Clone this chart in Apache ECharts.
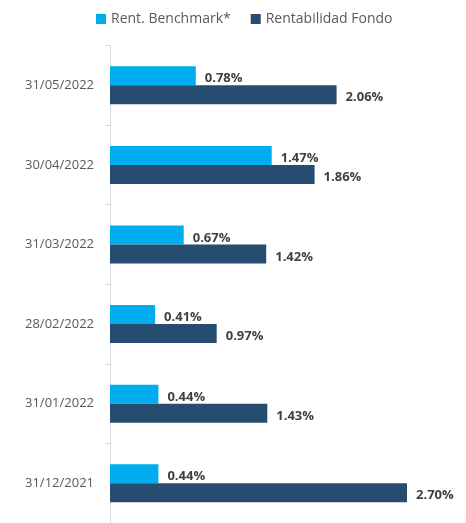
<!DOCTYPE html>
<html>
<head>
<meta charset="utf-8">
<title>Rentabilidad</title>
<script src="https://cdn.jsdelivr.net/npm/echarts@6/dist/echarts.min.js"></script>
<style>
  html, body { margin: 0; padding: 0; background: #fff; }
</style>
</head>
<body>
<div id="main" style="width:466px;height:523px;"></div>
<script>
// fechas, de abajo hacia arriba
const categories = ['31/12/2021', '31/01/2022', '28/02/2022', '31/03/2022', '30/04/2022', '31/05/2022'];
const benchmark = [0.44, 0.44, 0.41, 0.67, 1.47, 0.78];
const fondo = [2.70, 1.43, 0.97, 1.42, 1.86, 2.06];
const seriesNames = ['Rent. Benchmark*', 'Rentabilidad Fondo'];

const chart = echarts.init(document.getElementById('main'));

const labelStyle = {
  show: true,
  position: 'right',
  distance: 9,
  offset: [0, 3],
  color: '#404040',
  fontFamily: 'Open Sans',
  fontWeight: 'bold',
  fontSize: 13,
  formatter: p => p.value.toFixed(2) + '%'
};

chart.setOption({
  animation: false,
  textStyle: { fontFamily: 'Open Sans' },
  legend: {
    top: 7,
    left: 91,
    itemWidth: 10,
    itemHeight: 10,
    itemGap: 20,
    icon: 'rect',
    textStyle: { color: '#595959', fontSize: 14, fontFamily: 'Open Sans' },
    data: seriesNames
  },
  grid: { left: 110, width: 330, top: 45.5, bottom: -2.5, containLabel: false },
  xAxis: {
    type: 'value',
    min: 0,
    max: 3,
    show: false
  },
  yAxis: {
    type: 'category',
    data: categories,
    axisLine: { show: true, lineStyle: { color: '#d9d9d9' } },
    axisTick: { show: true, length: 5, lineStyle: { color: '#d9d9d9' } },
    axisLabel: { color: '#595959', fontSize: 13, margin: 16, fontFamily: 'Open Sans' }
  },
  series: [
    {
      name: seriesNames[0],
      type: 'bar',
      data: benchmark,
      barWidth: 19,
      barGap: '0%',
      itemStyle: { color: '#00AEEF' },
      label: labelStyle
    },
    {
      name: seriesNames[1],
      type: 'bar',
      data: fondo,
      barWidth: 19,
      itemStyle: { color: '#264D6F' },
      label: labelStyle
    }
  ]
});
</script>
</body>
</html>
